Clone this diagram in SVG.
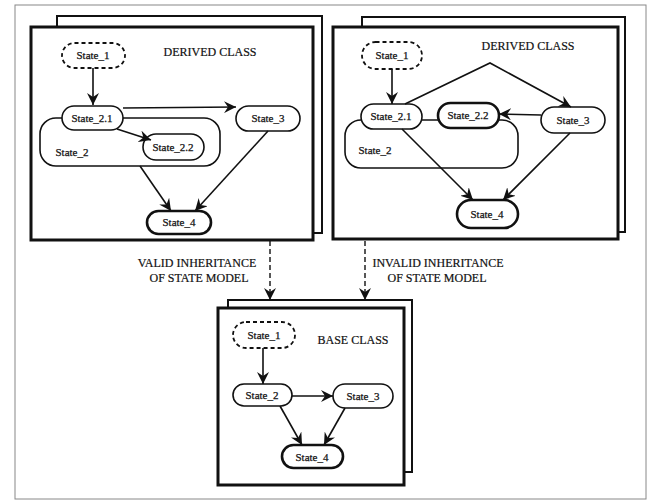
<svg xmlns="http://www.w3.org/2000/svg" width="652" height="501" viewBox="0 0 652 501">
<defs>
<style>
.page{fill:#fff;stroke:#111;stroke-width:2}
.front{fill:#fff;stroke:#111;stroke-width:3}
.st{fill:#fff;stroke:#111;stroke-width:1.6}
.thick{fill:#fff;stroke:#111;stroke-width:2.6}
.init{fill:#fff;stroke:#111;stroke-width:1.8;stroke-dasharray:4 3}
.cont{fill:none;stroke:#111;stroke-width:1.6}
.lbl{font-family:"Liberation Serif","Times New Roman",serif;font-size:11px;fill:#111;stroke:#111;stroke-width:0.25;text-anchor:middle}
.cls{font-family:"Liberation Serif","Times New Roman",serif;font-size:12px;fill:#111;stroke:#111;stroke-width:0.2;text-anchor:middle}
.edge{fill:none;stroke:#111;stroke-width:1.6;marker-end:url(#arr)}
.dash{fill:none;stroke:#111;stroke-width:1.4;stroke-dasharray:5 3;marker-end:url(#arr)}
</style>
<marker id="arr" markerUnits="userSpaceOnUse" markerWidth="14" markerHeight="12" refX="12" refY="6" orient="auto">
<path d="M0,0 L12,6 L0,12 L4,6 z" fill="#111"/>
</marker>
</defs>
<rect x="15" y="5" width="631" height="494" fill="#fff" stroke="#888" stroke-width="1"/>

<g id="left-panel">
<rect class="page" x="57" y="16" width="265" height="217"/>
<rect class="front" x="31" y="27" width="282" height="213"/>
<text class="cls" x="210" y="56">DERIVED CLASS</text>
</g>
<g id="left-State_2"><rect class="cont" x="40" y="118" width="180" height="48" rx="16"/><text class="lbl" x="72" y="156">State_2</text></g>
<g id="left-State_1"><rect class="init" x="62" y="43" width="63" height="25" rx="12.5"/><text class="lbl" x="93" y="59">State_1</text></g>
<g id="left-State_2.1"><rect class="st" x="62" y="106" width="61" height="24" rx="12"/><text class="lbl" x="92" y="122">State_2.1</text></g>
<g id="left-State_3"><rect class="st" x="236" y="106" width="64" height="25" rx="12.5"/><text class="lbl" x="268" y="122">State_3</text></g>
<g id="left-State_2.2"><rect class="st" x="143" y="134" width="61" height="26" rx="13" stroke-width="2"/><text class="lbl" x="173" y="151">State_2.2</text></g>
<g id="left-State_4"><rect class="thick" x="147" y="211" width="64" height="23" rx="11.5"/><text class="lbl" x="179" y="226">State_4</text></g>

<g id="right-panel">
<rect class="page" x="362" y="17" width="263" height="215"/>
<rect class="front" x="333" y="27" width="285" height="212"/>
<text class="cls" x="528" y="50">DERIVED CLASS</text>
</g>
<g id="right-State_2"><rect class="cont" x="345" y="120" width="173" height="48" rx="16"/><text class="lbl" x="375" y="154">State_2</text></g>
<g id="right-State_1"><rect class="init" x="362" y="42" width="60" height="27" rx="13.5"/><text class="lbl" x="392" y="59">State_1</text></g>
<g id="right-State_2.1"><rect class="st" x="361" y="104" width="61" height="25" rx="12.5"/><text class="lbl" x="391" y="120">State_2.1</text></g>
<g id="right-State_2.2"><rect class="thick" x="438" y="103" width="61" height="25" rx="12.5"/><text class="lbl" x="468" y="119">State_2.2</text></g>
<g id="right-State_3"><rect class="st" x="541" y="107" width="64" height="26" rx="13"/><text class="lbl" x="573" y="124">State_3</text></g>
<g id="right-State_4"><rect class="thick" x="457" y="200" width="61" height="28" rx="14"/><text class="lbl" x="487" y="218">State_4</text></g>

<g id="base-panel">
<rect class="page" x="228" y="300" width="184" height="172"/>
<rect class="front" x="218" y="308" width="186" height="177"/>
<text class="cls" x="353" y="344">BASE CLASS</text>
</g>
<g id="base-State_1"><rect class="init" x="233" y="322" width="62" height="26" rx="13"/><text class="lbl" x="264" y="339">State_1</text></g>
<g id="base-State_2"><rect class="st" x="233" y="384" width="59" height="22" rx="11"/><text class="lbl" x="262" y="399">State_2</text></g>
<g id="base-State_3"><rect class="st" x="333" y="384" width="60" height="24" rx="12"/><text class="lbl" x="363" y="400">State_3</text></g>
<g id="base-State_4"><rect class="thick" x="282" y="445" width="61" height="23" rx="11.5"/><text class="lbl" x="312" y="461">State_4</text></g>

<g id="labels">
<text class="cls" x="197" y="267">VALID INHERITANCE</text>
<text class="cls" x="199" y="282">OF STATE MODEL</text>
<text class="cls" x="438" y="267">INVALID INHERITANCE</text>
<text class="cls" x="437" y="282">OF STATE MODEL</text>
</g>

<g id="connectors">
<line class="edge" x1="93" y1="68" x2="93" y2="105"/>
<line class="edge" x1="123" y1="108" x2="236" y2="107"/>
<line class="edge" x1="117" y1="129" x2="151" y2="140"/>
<line class="edge" x1="140" y1="166" x2="171" y2="211"/>
<line class="edge" x1="268" y1="131" x2="195" y2="211"/>

<line class="edge" x1="392" y1="69" x2="392" y2="104"/>
<polyline class="edge" points="405,104 490,63 571,107"/>
<line class="edge" x1="541" y1="115" x2="499" y2="114"/>
<line class="edge" x1="402" y1="129" x2="473" y2="200"/>
<line class="edge" x1="570" y1="133" x2="503" y2="200"/>

<line class="edge" x1="263" y1="348" x2="263" y2="384"/>
<line class="edge" x1="292" y1="396" x2="333" y2="396"/>
<line class="edge" x1="280" y1="406" x2="302" y2="445"/>
<line class="edge" x1="345" y1="408" x2="324" y2="445"/>

<line class="dash" x1="270" y1="241" x2="270" y2="300"/>
<line class="dash" x1="365" y1="241" x2="365" y2="300"/>
</g>
</svg>
